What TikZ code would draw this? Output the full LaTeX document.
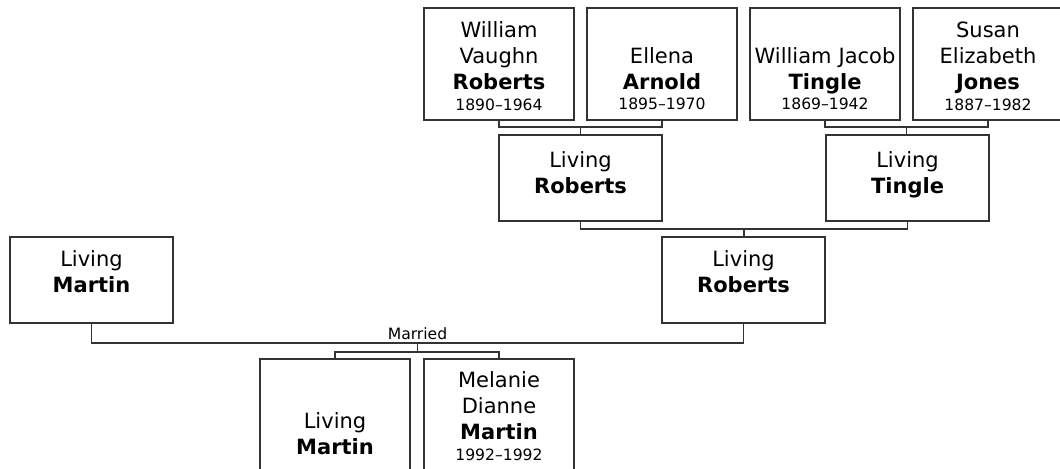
\documentclass[tikz,border=0pt]{standalone}
\usepackage{fontspec}
\setmainfont{DejaVu Sans}
\usetikzlibrary{positioning,calc}
\definecolor{edge}{HTML}{333333}
\newcommand{\yrs}{\fontsize{11.7pt}{14pt}\selectfont}

\begin{document}
\begin{tikzpicture}[x=0.75pt,y=-0.75pt,
  font=\fontsize{15.75pt}{19.75pt}\selectfont,
  card/.style={draw=edge, line width=1.2pt, inner sep=0pt, outer sep=0pt,
               anchor=north west, align=center, text width=112.5pt},
  widecard/.style={card, text width=122.25pt},
  pad/.style 2 args={text height=#1, text depth=#2},
  link/.style={draw=edge, line width=1.2pt},
  lbl/.style={font=\yrs, inner sep=0pt}]
\useasboundingbox (0,0) rectangle (1060,468);
\clip (0,0) rectangle (1060,468);
% great-grandparents
\node[card, pad={21.75pt}{62.25pt}] (wvr) at (424,8)
  {William\\Vaughn\\\textbf{Roberts}\\[-4.5pt]{\yrs 1890–1964}};
\node[card, pad={41.25pt}{42.75pt}, right=9.75pt of wvr] (ea)
  {Ellena\\\textbf{Arnold}\\[-4.5pt]{\yrs 1895–1970}};
\node[card, pad={41.25pt}{42.75pt}, right=9.75pt of ea] (wjt)
  {William Jacob\\\textbf{Tingle}\\[-4.5pt]{\yrs 1869–1942}};
\node[card, pad={21.75pt}{62.25pt}, right=9.75pt of wjt] (sej)
  {Susan\\Elizabeth\\\textbf{Jones}\\[-4.5pt]{\yrs 1887–1982}};
% grandparents
\node[widecard, pad={24pt}{40.5pt}] (lr1) at (499,135) {Living\\\textbf{Roberts}};
\node[widecard, pad={24pt}{40.5pt}] (lt) at (826,135) {Living\\\textbf{Tingle}};
% parents
\node[widecard, pad={21.75pt}{42.75pt}] (lr2) at (662,237) {Living\\\textbf{Roberts}};
\node[widecard, pad={21.75pt}{42.75pt}] (lm1) at (10,237) {Living\\\textbf{Martin}};
% children
\node[card, pad={51.75pt}{32.25pt}] (lm2) at (260,359) {Living\\\textbf{Martin}};
\node[card, pad={21pt}{63pt}, right=10.5pt of lm2] (mdm)
  {Melanie\\Dianne\\\textbf{Martin}\\[-4.5pt]{\yrs 1992–1992}};
% junctions
\coordinate (j1) at ($(wvr.south)!0.5!(ea.south)+(0,7)$);
\coordinate (j2) at ($(wjt.south)!0.5!(sej.south)+(0,7)$);
\coordinate (j3) at ($(lr1.south)!0.5!(lt.south)+(0,8)$);
\coordinate (j4) at ($(lm1.south)!0.5!(lr2.south)+(0,20)$);
\coordinate (j5) at ($(j4)+(0,9)$);
\draw[link] (wvr.south) |- (j1) -| (ea.south);
\draw[link] (j1) -- (j1 |- lr1.north);
\draw[link] (wjt.south) |- (j2) -| (sej.south);
\draw[link] (j2) -- (j2 |- lt.north);
\draw[link] (lr1.south) |- (j3) -| (lt.south);
\draw[link] (j3) -- (j3 |- lr2.north);
\draw[link] (lm1.south) |- (j4) -| (lr2.south);
\node[lbl, anchor=base] (wed) at ($(j4)+(0,-4)$) {Married};
\draw[link] (j4) -- (j5);
\draw[link] (lm2.north) |- (j5) -| (mdm.north);
\end{tikzpicture}
\end{document}
